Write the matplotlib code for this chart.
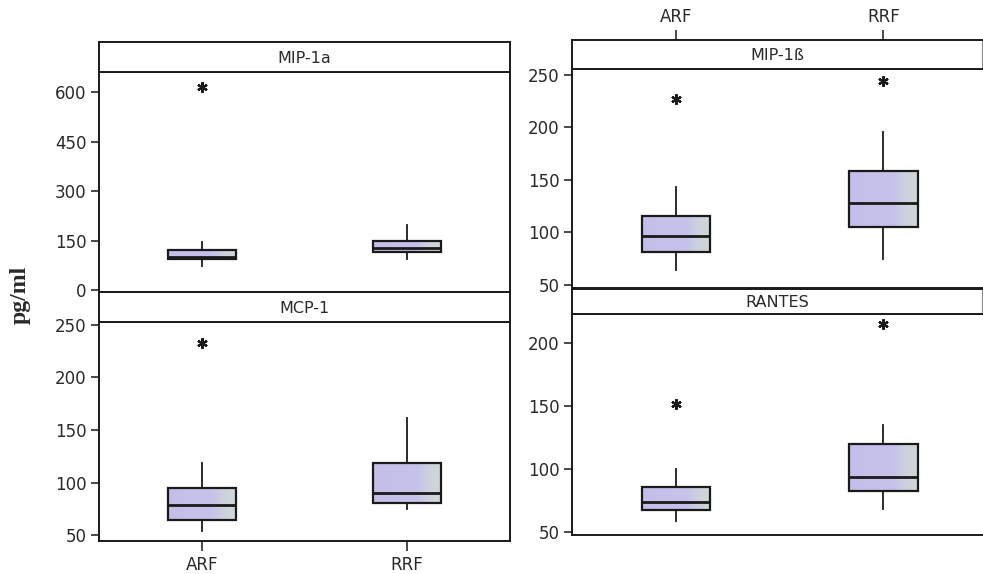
import matplotlib
matplotlib.use("Agg")
import matplotlib.pyplot as plt
import numpy as np
from matplotlib.colors import LinearSegmentedColormap

# ---------------- data ----------------
groups = ["ARF", "RRF"]

mip1a_q1 = [95, 117]
mip1a_med = [100, 128]
mip1a_q3 = [121, 150]
mip1a_lo = [75, 96]
mip1a_hi = [146, 197]
mip1a_out = [[617], []]

mcp1_q1 = [64.6, 81]
mcp1_med = [78.7, 89.8]
mcp1_q3 = [94.5, 118.5]
mcp1_lo = [54, 75]
mcp1_hi = [118.8, 161]
mcp1_out = [[232.6], []]

mip1b_q1 = [81.2, 105.4]
mip1b_med = [96.9, 127.6]
mip1b_q3 = [115.2, 158.8]
mip1b_lo = [64, 75]
mip1b_hi = [143, 195.5]
mip1b_out = [[227], [243.8]]

rantes_q1 = [67.9, 82.5]
rantes_med = [73.7, 93.9]
rantes_q3 = [85.9, 119.9]
rantes_lo = [58.8, 68.1]
rantes_hi = [100, 135.6]
rantes_out = [[151.8], [215.4]]

titles = ["MIP-1a", "MCP-1", "MIP-1ß", "RANTES"]
yticks_list = [[0, 150, 300, 450, 600], [50, 100, 150, 200, 250],
               [50, 100, 150, 200, 250], [50, 100, 150, 200]]
ylims = [(-5, 661), (44.5, 252.6), (47.2, 255.3), (47.8, 223.4)]

panels = [
    (mip1a_q1, mip1a_med, mip1a_q3, mip1a_lo, mip1a_hi, mip1a_out),
    (mcp1_q1, mcp1_med, mcp1_q3, mcp1_lo, mcp1_hi, mcp1_out),
    (mip1b_q1, mip1b_med, mip1b_q3, mip1b_lo, mip1b_hi, mip1b_out),
    (rantes_q1, rantes_med, rantes_q3, rantes_lo, rantes_hi, rantes_out),
]

# ---------------- layout (pixel geometry) ----------------
W, H = 983, 574
fig = plt.figure(figsize=(W / 100, H / 100), dpi=100)
fig.patch.set_facecolor("white")

# (x0, x1, plot_top, plot_bottom, strip_top, xlim) in pixels from top-left
geom = [
    (99, 510, 72, 292, 42, (0.5, 2.5)),
    (99, 510, 322, 541, 292, (0.5, 2.5)),
    (572, 982, 69, 288, 40, (0.5, 2.475)),
    (572, 982, 314, 535, 289, (0.5, 2.475)),
]

def rect(x0, x1, ytop, ybot):
    return [x0 / W, 1 - ybot / H, (x1 - x0) / W, (ybot - ytop) / H]

grad_cmap = LinearSegmentedColormap.from_list(
    "boxgrad", [(0.0, "#c3bfe8"), (0.65, "#c6c2ea"), (0.8, "#ccd0de"), (1.0, "#cfd8d8")])
edge = "#1a1a1a"
txt = "#2a2a2a"
grad = np.linspace(0, 1, 64).reshape(1, -1)

for i, (g, p) in enumerate(zip(geom, panels)):
    x0, x1, ptop, pbot, stop, xl = g
    ax = fig.add_axes(rect(x0, x1, ptop, pbot))
    sax = fig.add_axes(rect(x0, x1, stop, ptop))
    q1, med, q3, lo, hi, out = p
    stats = []
    for k in range(2):
        stats.append(dict(med=med[k], q1=q1[k], q3=q3[k], whislo=lo[k],
                          whishi=hi[k], fliers=out[k], label=groups[k]))
    res = ax.bxp(stats, positions=[1, 2], widths=0.33, patch_artist=True,
                 showcaps=False,
                 boxprops=dict(facecolor="none", edgecolor=edge, linewidth=1.6, zorder=3),
                 medianprops=dict(color=edge, linewidth=2.0, zorder=4),
                 whiskerprops=dict(color=edge, linewidth=1.3),
                 flierprops=dict(marker=(6, 2, 0), markersize=7.5, markeredgecolor=edge,
                                 markeredgewidth=1.6, markerfacecolor=edge))
    for k, patch in enumerate(res["boxes"]):
        pos = k + 1
        im = ax.imshow(grad, cmap=grad_cmap, aspect="auto",
                       extent=(pos - 0.165, pos + 0.165, q1[k], q3[k]),
                       zorder=2, interpolation="bilinear")
        im.set_clip_path(patch)
    ax.set_xlim(*xl)
    ax.set_ylim(*ylims[i])
    ax.set_yticks(yticks_list[i])
    ax.tick_params(axis="y", direction="out", length=6, width=1.2,
                   labelsize=12, colors=txt, pad=3)
    for s in ax.spines.values():
        s.set_linewidth(1.4)
        s.set_color(edge)
    if i >= 2:
        ax.spines["right"].set_visible(False)
    if i == 1:
        ax.set_xticks([1, 2])
        ax.set_xticklabels(groups)
        ax.tick_params(axis="x", direction="out", length=7, width=1.2,
                       labelsize=12, colors=txt, pad=4)
    else:
        ax.set_xticks([])
    # strip
    sax.set_xlim(*xl)
    sax.set_yticks([])
    for s in sax.spines.values():
        s.set_linewidth(1.4)
        s.set_color(edge)
    if i >= 2:
        sax.spines["right"].set_linewidth(0.8)
        sax.spines["right"].set_color("#888888")
    if i == 2:
        sax.set_xticks([1, 2])
        sax.set_xticklabels(groups)
        sax.xaxis.tick_top()
        sax.tick_params(axis="x", direction="out", length=7, width=1.2,
                        labelsize=12, colors=txt, pad=3)
    else:
        sax.set_xticks([])
    sax.text(0.5, 0.45, titles[i], transform=sax.transAxes,
             ha="center", va="center", fontsize=11.5, color=txt)

fig.text(20 / W, 1 - 295 / H, "pg/ml", rotation=90, ha="center", va="center",
         fontsize=17, fontweight="bold", family="Liberation Serif", color=txt)

fig.savefig("out.png", dpi=100, facecolor="white")
